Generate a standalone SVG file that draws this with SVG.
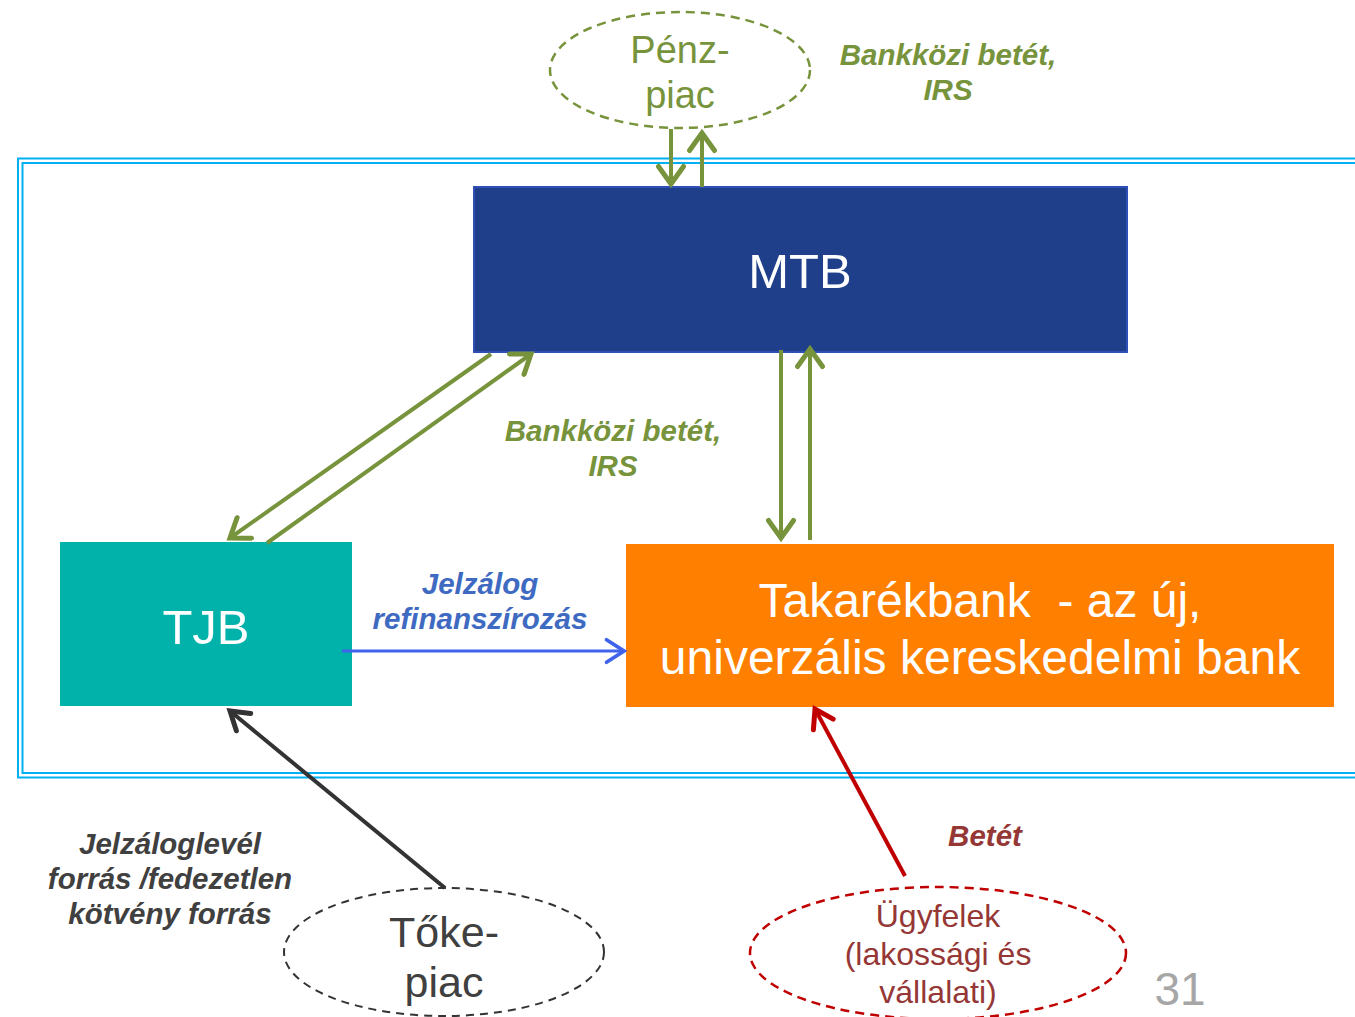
<svg xmlns="http://www.w3.org/2000/svg" width="1355" height="1017" viewBox="0 0 1355 1017">
<style>
.frame{fill:none;stroke:#00B0F0;stroke-width:2}
.lbl{font-family:"Liberation Sans",Arial,sans-serif;font-weight:bold;font-style:italic;font-size:29.5px;text-anchor:middle}
.node{font-family:"Liberation Sans",Arial,sans-serif;text-anchor:middle}
.g{stroke:#77933C;stroke-width:4;fill:none}
</style>
<defs>
<marker id="ag" markerUnits="userSpaceOnUse" markerWidth="30" markerHeight="30" viewBox="-16 -12 20 24" refX="0" refY="0" orient="auto">
<path d="M-14,-10 L0,0 L-14,10" fill="none" stroke="#77933C" stroke-width="4" stroke-linecap="round" stroke-linejoin="miter"/>
</marker>
<marker id="ab" markerUnits="userSpaceOnUse" markerWidth="30" markerHeight="30" viewBox="-16 -12 20 24" refX="0" refY="0" orient="auto">
<path d="M-14,-9 L0,0 L-14,9" fill="none" stroke="#3F63EB" stroke-width="3" stroke-linecap="round"/>
</marker>
<marker id="ak" markerUnits="userSpaceOnUse" markerWidth="30" markerHeight="30" viewBox="-16 -12 20 24" refX="0" refY="0" orient="auto">
<path d="M-14,-9 L0,0 L-14,9" fill="none" stroke="#333333" stroke-width="4" stroke-linecap="round"/>
</marker>
<marker id="ar" markerUnits="userSpaceOnUse" markerWidth="30" markerHeight="30" viewBox="-16 -12 20 24" refX="0" refY="0" orient="auto">
<path d="M-14,-9 L0,0 L-14,9" fill="none" stroke="#C00000" stroke-width="4" stroke-linecap="round"/>
</marker>
</defs>
<rect width="1355" height="1017" fill="#FFFFFF"/>
<g id="frame">
<rect class="frame" x="18" y="158.5" width="1400" height="619"/>
<rect class="frame" x="22.5" y="163" width="1400" height="610"/>
</g>
<g id="penzpiac">
<ellipse cx="680" cy="70" rx="130" ry="58" fill="none" stroke="#77933C" stroke-width="2.5" stroke-dasharray="9,6"/>
<text class="node" x="680" y="63" font-size="38" fill="#77933C">Pénz-</text>
<text class="node" x="680" y="108" font-size="38" fill="#77933C">piac</text>
</g>
<g id="mtb">
<rect x="474" y="187" width="653" height="165" fill="#1F3F8A" stroke="#2E4FB5" stroke-width="2"/>
<text class="node" x="800" y="288" font-size="49" fill="#FFFFFF">MTB</text>
</g>
<g id="tjb">
<rect x="60" y="542" width="292" height="164" fill="#00B2A9"/>
<text class="node" x="206" y="644" font-size="49" fill="#FFFFFF">TJB</text>
</g>
<g id="takarekbank">
<rect x="626" y="544" width="708" height="163" fill="#FF8000"/>
<text class="node" x="980" y="617" font-size="48" fill="#FFFFFF" xml:space="preserve">Takarékbank  - az új,</text>
<text class="node" x="980" y="674" font-size="48" fill="#FFFFFF">univerzális kereskedelmi bank</text>
</g>
<g id="tokepiac">
<ellipse cx="444" cy="952" rx="160" ry="64" fill="none" stroke="#333333" stroke-width="2" stroke-dasharray="8,6"/>
<text class="node" x="444" y="947" font-size="43" fill="#404040">Tőke-</text>
<text class="node" x="444" y="997" font-size="43" fill="#404040">piac</text>
</g>
<g id="ugyfelek">
<ellipse cx="938" cy="953" rx="188" ry="66" fill="none" stroke="#C00000" stroke-width="2.5" stroke-dasharray="9,6"/>
<text class="node" x="938" y="927" font-size="32" fill="#953735">Ügyfelek</text>
<text class="node" x="938" y="965" font-size="32" fill="#953735">(lakossági és</text>
<text class="node" x="938" y="1003" font-size="32" fill="#953735">vállalati)</text>
</g>
<g id="connectors">
<line class="g" x1="671" y1="129" x2="671" y2="184" marker-end="url(#ag)"/>
<line class="g" x1="702" y1="187" x2="702" y2="133" marker-end="url(#ag)"/>
<line class="g" x1="491" y1="354" x2="230" y2="538" marker-end="url(#ag)"/>
<line class="g" x1="267" y1="543" x2="531" y2="354" marker-end="url(#ag)"/>
<line class="g" x1="781" y1="350" x2="781" y2="538" marker-end="url(#ag)"/>
<line class="g" x1="810" y1="540" x2="810" y2="349" marker-end="url(#ag)"/>
<line x1="342" y1="651" x2="624" y2="651" stroke="#3F63EB" stroke-width="3" marker-end="url(#ab)"/>
<line x1="445" y1="888" x2="230" y2="711" stroke="#333333" stroke-width="4" marker-end="url(#ak)"/>
<line x1="905" y1="876" x2="815" y2="709" stroke="#C00000" stroke-width="4" marker-end="url(#ar)"/>
</g>
<g id="labels">
<text class="lbl" x="948" y="65" fill="#77933C">Bankközi betét,</text>
<text class="lbl" x="948" y="100" fill="#77933C">IRS</text>
<text class="lbl" x="613" y="441" fill="#77933C">Bankközi betét,</text>
<text class="lbl" x="613" y="476" fill="#77933C">IRS</text>
<text class="lbl" x="480" y="594" fill="#3E6AC1">Jelzálog</text>
<text class="lbl" x="480" y="629" fill="#3E6AC1">refinanszírozás</text>
<text class="lbl" x="170" y="854" fill="#404040">Jelzáloglevél</text>
<text class="lbl" x="170" y="889" fill="#404040">forrás /fedezetlen</text>
<text class="lbl" x="170" y="924" fill="#404040">kötvény forrás</text>
<text class="lbl" x="985" y="846" fill="#953735">Betét</text>
<text class="node" x="1180" y="1005" font-size="46" fill="#A6A6A6">31</text>
</g>
</svg>
